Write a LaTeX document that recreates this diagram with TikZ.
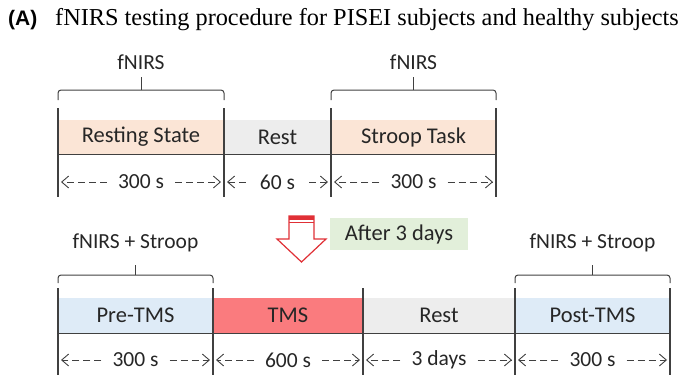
\documentclass[tikz,border=0pt]{standalone}
\usepackage{fontspec}
\setmainfont{Liberation Serif}
\setsansfont{Carlito}
\newfontfamily\headfont{Liberation Sans}
\usetikzlibrary{arrows.meta}

\definecolor{peach}{HTML}{FBE5D6}
\definecolor{restgray}{HTML}{EDEDED}
\definecolor{paleblue}{HTML}{DEEBF7}
\definecolor{tmsred}{HTML}{FA7B7E}
\definecolor{palegreen}{HTML}{E2EFDA}
\definecolor{linegray}{HTML}{404040}
\definecolor{arrowred}{HTML}{E03036}

\tikzset{
  seg/.style={minimum height=34pt, inner sep=0pt, text=black!85,
    font=\sffamily\fontsize{22.5}{24}\selectfont},
  dur/.style={inner xsep=11pt, inner ysep=0pt, text=black!85,
    font=\sffamily\fontsize{21.5}{23}\selectfont},
  lab/.style={text=black!85, font=\sffamily\fontsize{21.5}{23}\selectfont},
  tick/.style={draw=linegray, line width=1.3pt},
  brace/.style={draw=linegray, line width=1pt, rounded corners=3pt},
  durarrow/.style={draw=linegray, line width=0.9pt, dash pattern=on 7pt off 4pt,
    -{Straight Barb[length=7pt, width=12pt, line width=0.9pt]}}
}

\begin{document}
\begin{tikzpicture}[x=1pt, y=-1pt]
  \useasboundingbox (0,0) rectangle (700,386);

  % ---------- title ----------
  \node[anchor=base west, inner sep=0pt, font=\headfont\bfseries\fontsize{21}{23}\selectfont] (tag) at (8,25) {(A)};
  \node[anchor=base west, inner sep=0pt, font=\fontsize{24.3}{26}\selectfont] (title) at (55,25)
    {fNIRS testing procedure for PISEI subjects and healthy subjects};

  % ---------- top row ----------
  % 1. segments
  \node[seg, fill=peach, minimum width=166pt] (rs) at (141,137) {Resting State};
  \node[seg, fill=restgray, minimum width=107pt] (rest1) at (277.5,137) {Rest};
  \node[seg, fill=peach, minimum width=165pt] (stroop) at (413.5,137) {Stroop Task};
  \draw[tick, line width=1pt] (58,154) -- (496,154);

  % 2. separators
  \foreach \x [count=\i] in {58,224,331,496} {
    \draw[tick] (\x,108) -- (\x,197);
    \coordinate (t\i) at (\x,182);
  }

  % 3. braces
  \draw[brace] (58,100) |- (141,90) -| (224,100);
  \draw[brace] (141,90) -- (141,77);
  \node[lab] (f1) at (141,62) {fNIRS};
  \draw[brace] (331,100) |- (413.5,90) -| (496,100);
  \draw[brace] (413.5,90) -- (413.5,77);
  \node[lab] (f2) at (413.5,62) {fNIRS};

  % 4. durations
  \node[dur] (d1) at (141,182) {300 s};
  \node[dur, inner xsep=14pt] (d2) at (277.5,182) {60 s};
  \node[dur] (d3) at (413.5,182) {300 s};
  \foreach \n/\a/\b in {d1/t1/t2, d2/t2/t3, d3/t3/t4} {
    \draw[durarrow] (\n.west) -- ([xshift=3]\a);
    \draw[durarrow] (\n.east) -- ([xshift=-3]\b);
  }

  % ---------- transition ----------
  \draw[arrowred, line width=1.2pt, fill=white, line join=miter]
    (289,216) -- (314,216) -- (314,239) -- (326,239) -- (301.5,262) -- (277,239) -- (289,239) -- cycle;
  \fill[arrowred] (289,216) rectangle (314,219.5);
  \draw[arrowred, line width=1pt] (289,222.5) -- (314,222.5);
  \node[fill=palegreen, minimum width=138pt, minimum height=32pt, inner sep=0pt, text=black!85,
    font=\sffamily\fontsize{22.5}{24}\selectfont] (after) at (399,234) {After 3 days};

  % ---------- bottom row ----------
  % 1. segments
  \node[seg, fill=paleblue, minimum width=155pt, minimum height=35pt] (pre) at (135.5,315.5) {Pre-TMS};
  \node[seg, fill=tmsred, minimum width=150pt, minimum height=35pt] (tms) at (288,315.5) {TMS};
  \node[seg, fill=restgray, minimum width=152pt, minimum height=35pt] (rest2) at (439,315.5) {Rest};
  \node[seg, fill=paleblue, minimum width=155pt, minimum height=35pt] (post) at (592.5,315.5) {Post-TMS};
  \draw[tick, line width=1pt] (58,333) -- (670,333);

  % 2. separators
  \foreach \x [count=\i] in {58,213,363,515,670} {
    \draw[tick] (\x,288) -- (\x,375);
    \coordinate (b\i) at (\x,360);
  }

  % 3. braces
  \draw[brace] (58,283) |- (135.5,275) -| (213,283);
  \draw[brace] (135.5,275) -- (135.5,265);
  \node[lab] (s1) at (135.5,243) {fNIRS + Stroop};
  \draw[brace] (515,283) |- (592.5,275) -| (670,283);
  \draw[brace] (592.5,275) -- (592.5,265);
  \node[lab] (s2) at (592.5,243) {fNIRS + Stroop};

  % 4. durations
  \node[dur] (e1) at (135.5,360) {300 s};
  \node[dur] (e2) at (288,360) {600 s};
  \node[dur] (e3) at (439,360) {3 days};
  \node[dur] (e4) at (592.5,360) {300 s};
  \foreach \n/\a/\b in {e1/b1/b2, e2/b2/b3, e3/b3/b4, e4/b4/b5} {
    \draw[durarrow] (\n.west) -- ([xshift=3]\a);
    \draw[durarrow] (\n.east) -- ([xshift=-3]\b);
  }
\end{tikzpicture}
\end{document}
